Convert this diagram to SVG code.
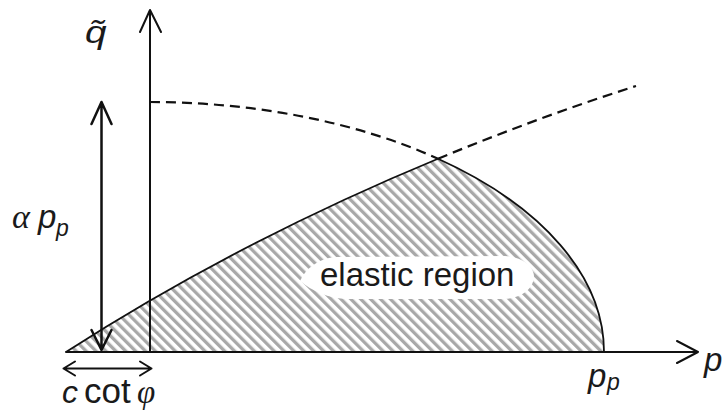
<svg xmlns="http://www.w3.org/2000/svg" width="728" height="413" viewBox="0 0 728 413">
<style>
.ax{fill:none;stroke:#111;stroke-width:2;stroke-linecap:round;stroke-linejoin:round}
.arr{fill:none;stroke:#111;stroke-width:2.5;stroke-linecap:round;stroke-linejoin:round}
.cur{fill:none;stroke:#111;stroke-width:1.8}
.dash{fill:none;stroke:#111;stroke-width:2.2;stroke-dasharray:10 6}
.it{font-family:"Liberation Sans",Arial,sans-serif;font-style:italic;fill:#1a1a1a}
.up{font-family:"Liberation Sans",Arial,sans-serif;fill:#1a1a1a}
.gr{font-family:"Liberation Serif","Times New Roman",serif;font-style:italic;fill:#1a1a1a}
</style>
<defs>
<pattern id="hatch" width="7" height="7" patternUnits="userSpaceOnUse" patternTransform="rotate(-45)">
<rect x="0" y="0" width="3.3" height="7" fill="#a8a8a8"/>
</pattern>
</defs>
<rect width="728" height="413" fill="#fff"/>
<g id="elastic-region">
<path d="M66,352 Q237,242 438,158.74 A454,250 0 0,1 604,352 Z" fill="url(#hatch)"/>
<path d="M300,281 C306,268 318,259 335,257 L505,256 C522,257 534,266 534,277 C533,290 520,298 505,299 L345,299 C328,298 312,291 300,281 Z" fill="#fff"/>
<text class="up" x="320" y="286" font-size="33">elastic region</text>
</g>
<g id="curves">
<path class="cur" d="M66,352 Q237,242 438,158.74"/>
<path class="cur" d="M438,158.74 A454,250 0 0,1 604,352"/>
<path class="dash" d="M150,102 A454,250 0 0,1 438,158.74"/>
<path class="dash" d="M438,158.74 Q537,117.7 636,86"/>
</g>
<g id="axes">
<path class="ax" d="M150,352 V10 M140,32 L150,10 L161,32"/>
<path class="ax" d="M66,352 H698 M677,341 L698,352 L677,363"/>
</g>
<g id="dimension-arrows">
<path class="arr" d="M101.5,102 V350 M91.5,124 L101.5,102 L111.5,124 M91.5,330 L101.5,350 L111.5,330"/>
<path class="ax" d="M63.5,368.5 H151.5 M75,361.5 L63.5,368.5 L75,375.5 M140,361.5 L151.5,368.5 L140,375.5"/>
</g>
<g id="labels">
<text class="it" x="85" y="43" font-size="31" transform="translate(85,43) scale(1.25,1) translate(-85,-43)">q̃</text>
<text class="gr" x="12" y="228" font-size="34">α</text>
<text class="it" x="38" y="228" font-size="33">p</text>
<text class="it" x="56" y="236" font-size="23">p</text>
<text class="it" x="62" y="403" font-size="32">c</text>
<text class="up" x="84" y="403" font-size="35">cot</text>
<text class="gr" x="137" y="403" font-size="33">φ</text>
<text class="it" x="588" y="387" font-size="33">p</text>
<text class="it" x="607" y="390" font-size="23">p</text>
<text class="it" x="704" y="371" font-size="33">p</text>
</g>
</svg>
